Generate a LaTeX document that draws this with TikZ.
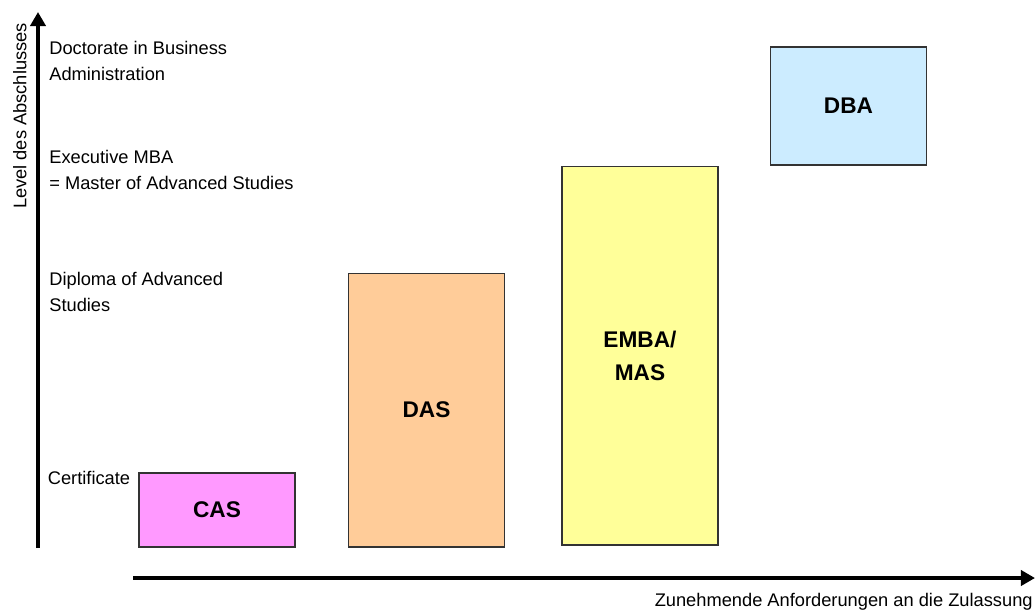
\documentclass[tikz,border=0pt]{standalone}
\usepackage{fontspec}
\setmainfont{Liberation Sans}
\usetikzlibrary{arrows.meta}

\definecolor{casfill}{HTML}{FF99FF}
\definecolor{dasfill}{HTML}{FFCC99}
\definecolor{embafill}{HTML}{FFFF99}
\definecolor{dbafill}{HTML}{CCECFF}

\begin{document}
\begin{tikzpicture}[x=0.02cm, y=-0.02cm,
    abschluss/.style={draw=black!80, line width=0.6pt, minimum width=3.12cm,
        align=center, inner sep=0pt, font=\bfseries\fontsize{12.9}{18.7}\selectfont},
    stufe/.style={anchor=north west, inner sep=0pt, align=left,
        font=\fontsize{10.4}{14.8}\selectfont},
    achse/.style={line width=2.8pt, -{Triangle[length=8pt, width=8.6pt]}}]

\useasboundingbox (0,0) rectangle (1035,610);

% STEP 1: Define the end points of the two axes.
\coordinate (ursprung) at (38,548);
\coordinate (yspitze) at (38,12);
\coordinate (xstart) at (133,578);
\coordinate (xspitze) at (1035,578);

% STEP 2: Draw the axes and their titles.
\draw[achse] (ursprung) -- (yspitze);
\draw[achse] (xstart) -- (xspitze);
\node[rotate=90, anchor=south, inner sep=0pt, font=\fontsize{10.4}{14.8}\selectfont]
    (ytitel) at (27,116) {Level des Abschlusses};
\node[anchor=base east, inner sep=0pt, font=\fontsize{10.4}{14.8}\selectfont]
    (xtitel) at (1033,606) {Zunehmende Anforderungen an die Zulassung};

% STEP 3: Label the levels on the vertical axis.
\node[stufe] (lvdba) at (49,41) {Doctorate in Business\\Administration};
\node[stufe] (lvemba) at (49,149.5) {Executive MBA\\= Master of Advanced Studies};
\node[stufe] (lvdas) at (49,272) {Diploma of Advanced\\Studies};
\node[stufe] (lvcas) at (47.5,471) {Certificate};

% STEP 4: Draw the degree boxes, rising from left to right.
\node[abschluss, fill=casfill, minimum height=1.48cm] (cas) at (217,510) {CAS};
\node[abschluss, fill=dasfill, minimum height=5.48cm] (das) at (426.5,410) {DAS};
\node[abschluss, fill=embafill, minimum height=7.58cm] (emba) at (640,355.5) {EMBA/\\MAS};
\node[abschluss, fill=dbafill, minimum height=2.36cm] (dba) at (848.5,106) {DBA};

\end{tikzpicture}
\end{document}
